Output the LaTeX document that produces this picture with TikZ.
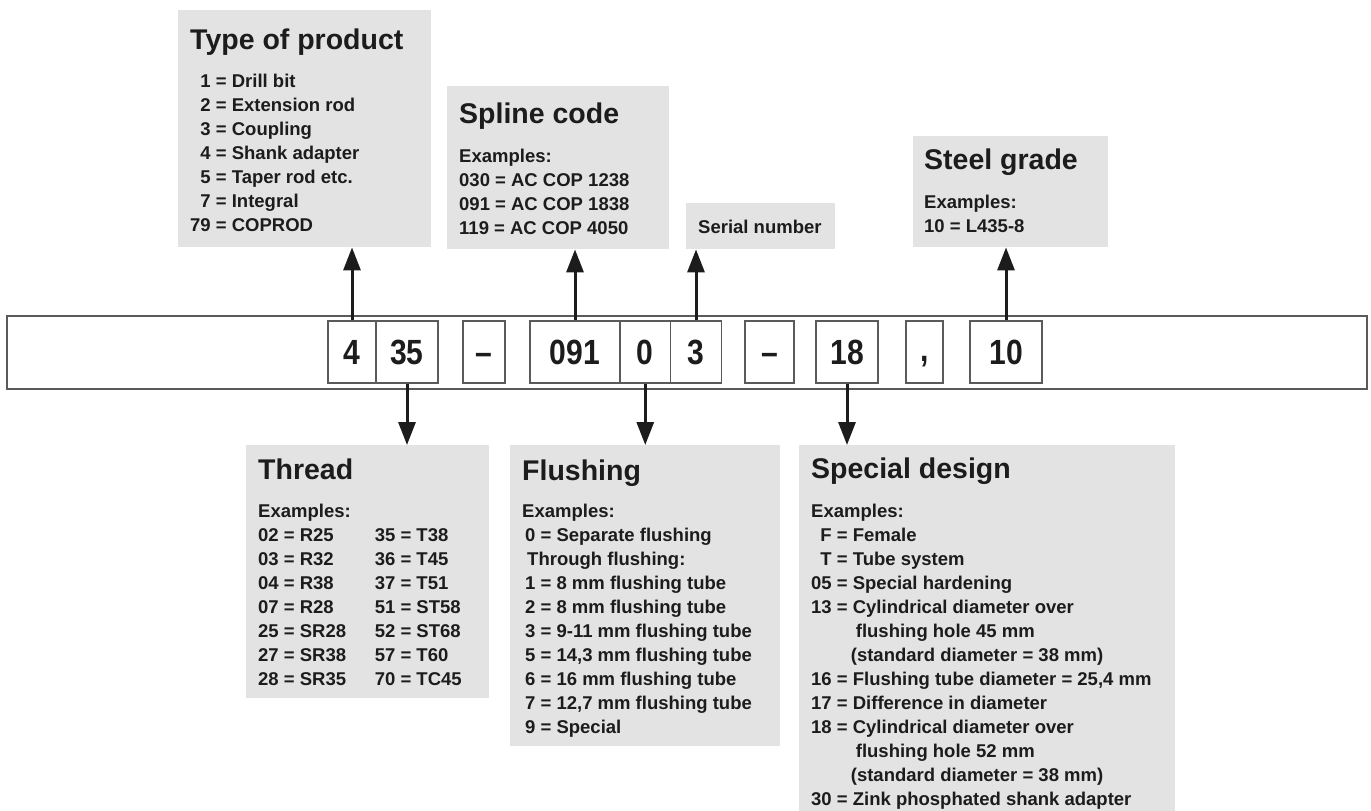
\documentclass[tikz,border=0pt]{standalone}
\usepackage{fontspec}
\setmainfont{Liberation Sans}
\newfontfamily\codefont[FakeStretch=0.86]{Liberation Sans}
\usepackage{array}
\usetikzlibrary{arrows.meta}
\definecolor{panelgray}{HTML}{E3E3E3}
\definecolor{inkdark}{HTML}{1C1C1C}
\definecolor{framegray}{HTML}{5A5A5A}

\begin{document}
\begin{tikzpicture}[x=1pt,y=-1pt,
  panel/.style={fill=panelgray,draw=none,inner sep=0pt,anchor=north west},
  ptitle/.style={anchor=base west,inner sep=0pt,text=inkdark,font=\fontsize{28.5}{34}\selectfont\bfseries},
  plist/.style={anchor=base west,inner sep=0pt,text=inkdark,font=\fontsize{18.5}{24}\selectfont\bfseries},
  codebar/.style={draw=framegray,line width=1.5pt,minimum width=1360pt,minimum height=73pt,inner sep=0pt},
  codebox/.style={draw=framegray,line width=1.2pt,minimum height=62pt,inner sep=0pt,text=inkdark,font=\codefont\fontsize{35}{40}\selectfont\bfseries},
  pointer/.style={draw=inkdark,line width=3pt,-{Triangle[length=23pt,width=17pt]}}]
\useasboundingbox (0,0) rectangle (1371,811);

% grey panels
\node[panel,minimum width=253pt,minimum height=237pt] (product) at (178,10) {};
\node[panel,minimum width=222pt,minimum height=163pt] (spline) at (447,86) {};
\node[panel,minimum width=149pt,minimum height=46pt] (serial) at (686,203) {};
\node[panel,minimum width=195pt,minimum height=111pt] (steel) at (913,136) {};
\node[panel,minimum width=243pt,minimum height=253pt] (thread) at (246,445) {};
\node[panel,minimum width=270pt,minimum height=301pt] (flushing) at (510,445) {};
\node[panel,minimum width=376pt,minimum height=366pt] (special) at (799,445) {};

% panel texts
\node[ptitle] (productTitle) at (190,49) {Type of product};
\node[plist] (productList) at (190,87) {\begin{tabular}[t]{@{}r@{~=~}l@{}}
1 & Drill bit\\ 2 & Extension rod\\ 3 & Coupling\\ 4 & Shank adapter\\
5 & Taper rod etc.\\ 7 & Integral\\ 79 & COPROD
\end{tabular}};

\node[ptitle] (splineTitle) at (459,123) {Spline code};
\node[plist] (splineList) at (459,162) {\begin{tabular}[t]{@{}l@{}}
Examples:\\ 030 = AC COP 1238\\ 091 = AC COP 1838\\ 119 = AC COP 4050
\end{tabular}};

\node[plist] (serialText) at (698,233) {Serial number};

\node[ptitle] (steelTitle) at (924,169) {Steel grade};
\node[plist] (steelList) at (924,208) {\begin{tabular}[t]{@{}l@{}}
Examples:\\ 10 = L435-8
\end{tabular}};

\node[ptitle] (threadTitle) at (258,479) {Thread};
\node[plist] (threadList) at (258,517) {\begin{tabular}[t]{@{}l@{~=~}p{75pt}@{}l@{~=~}l@{}}
\multicolumn{4}{@{}l@{}}{Examples:}\\
02 & R25 & 35 & T38\\ 03 & R32 & 36 & T45\\ 04 & R38 & 37 & T51\\
07 & R28 & 51 & ST58\\ 25 & SR28 & 52 & ST68\\ 27 & SR38 & 57 & T60\\
28 & SR35 & 70 & TC45
\end{tabular}};

\node[ptitle] (flushingTitle) at (522,480) {Flushing};
\node[plist] (flushingList) at (522,517) {\begin{tabular}[t]{@{}l@{}}
Examples:\\ \hspace{3pt}0 = Separate flushing\\ \hspace{5pt}Through flushing:\\
\hspace{3pt}1 = 8 mm flushing tube\\ \hspace{3pt}2 = 8 mm flushing tube\\
\hspace{3pt}3 = 9-11 mm flushing tube\\ \hspace{3pt}5 = 14,3 mm flushing tube\\
\hspace{3pt}6 = 16 mm flushing tube\\ \hspace{3pt}7 = 12,7 mm flushing tube\\
\hspace{3pt}9 = Special
\end{tabular}};

\node[ptitle] (specialTitle) at (811,478) {Special design};
\node[plist] (specialList) at (811,517) {\begin{tabular}[t]{@{}r@{}l@{}}
\multicolumn{2}{@{}l@{}}{Examples:}\\
F & ~=~Female\\ T & ~=~Tube system\\ 05 & ~=~Special hardening\\
13 & ~=~Cylindrical diameter over\\
 & \hphantom{~=~}\hspace{3pt}flushing hole 45 mm\\
 & \hphantom{~=~}\hspace{-2pt}(standard diameter = 38 mm)\\
16 & ~=~Flushing tube diameter = 25,4 mm\\
17 & ~=~Difference in diameter\\
18 & ~=~Cylindrical diameter over\\
 & \hphantom{~=~}\hspace{3pt}flushing hole 52 mm\\
 & \hphantom{~=~}\hspace{-2pt}(standard diameter = 38 mm)\\
30 & ~=~Zink phosphated shank adapter
\end{tabular}};

% code bar
\node[codebar] (bar) at (687,352.5) {};
\node[codebox,minimum width=48pt] (b4) at (352,352) {4};
\node[codebox,minimum width=62pt] (b35) at (407,352) {35};
\node[codebox,minimum width=42pt] (dashA) at (484,352) {\vphantom{0}–};
\node[codebox,minimum width=90pt] (b091) at (575,352) {091};
\node[codebox,minimum width=50.5pt] (b0) at (645.25,352) {0};
\node[codebox,minimum width=51pt] (b3) at (696,352) {3};
\node[codebox,minimum width=49pt] (dashB) at (769.5,352) {\vphantom{0}–};
\node[codebox,minimum width=62pt] (b18) at (847,352) {18};
\node[codebox,minimum width=37pt] (comma) at (924.5,352) {\vphantom{0},};
\node[codebox,minimum width=72pt] (b10) at (1006,352) {10};

% pointers
\draw[pointer] (b4.north) -- (b4.north |- product.south);
\draw[pointer] (b091.north) -- (b091.north |- spline.south);
\draw[pointer] (b3.north) -- (b3.north |- serial.south);
\draw[pointer] (b10.north) -- (b10.north |- steel.south);
\draw[pointer] (b35.south) -- (b35.south |- thread.north);
\draw[pointer] (b0.south) -- (b0.south |- flushing.north);
\draw[pointer] (b18.south) -- (b18.south |- special.north);
\end{tikzpicture}
\end{document}
